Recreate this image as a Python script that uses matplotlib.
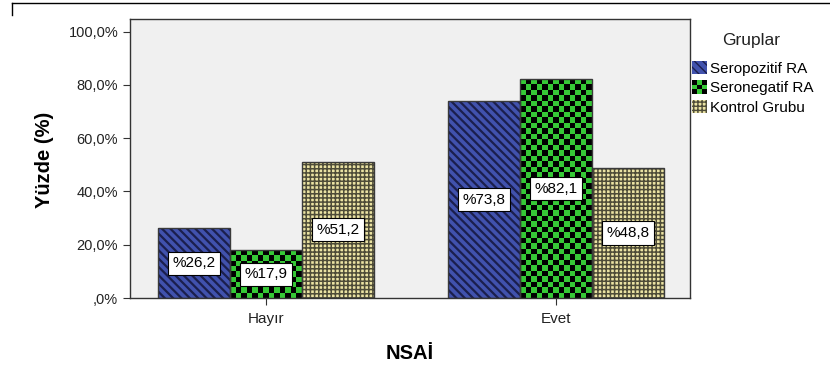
import numpy as np
import matplotlib.pyplot as plt
from matplotlib.patches import Rectangle
from matplotlib.lines import Line2D
from matplotlib.colors import ListedColormap
from matplotlib.legend_handler import HandlerBase
from matplotlib.ticker import FuncFormatter

plt.rcParams['font.family'] = ['Liberation Sans', 'DejaVu Sans']

# veriler (%)
nsai = ['Hayır', 'Evet']
gruplar = ['Seropozitif RA', 'Seronegatif RA', 'Kontrol Grubu']
seropozitif = [26.2, 73.8]
seronegatif = [17.9, 82.1]
kontrol = [51.2, 48.8]
yticks = [0, 20, 40, 60, 80, 100]

renk = ['#4152ad', '#36c936', '#ebe3a3']
desen_renk = ['#1b1f4d', '#000000', '#4e4c38']
desen = ['\\\\\\\\', None, '++++']
desen_kalinlik = [1.6, 1.0, 1.1]


def dama(ax, bar, renk1, renk2, hucre=5.5):
  # damali dolgu, cubugun icine kirpilir
  x0, y0 = bar.get_x(), bar.get_y()
  w, h = bar.get_width(), bar.get_height()
  p0 = ax.transData.transform((x0, y0))
  p1 = ax.transData.transform((x0 + w, y0 + h))
  nx = max(1, int(round((p1[0] - p0[0]) / hucre)))
  ny = max(1, int(round((p1[1] - p0[1]) / hucre)))
  tahta = np.indices((ny, nx)).sum(axis=0) % 2
  ax.imshow(tahta, cmap=ListedColormap([renk2, renk1]), extent=(x0, x0 + w, y0, y0 + h),
            origin='lower', interpolation='nearest', aspect='auto', zorder=3, clip_path=bar)


class HandlerDama(HandlerBase):
  def create_artists(self, legend, orig_handle, xdescent, ydescent, width, height, fontsize, trans):
    parcalar = []
    n = 3
    for i in range(n):
      for j in range(n):
        c = renk[1] if (i + j) % 2 else 'black'
        parcalar.append(Rectangle((-xdescent + i * width / n, -ydescent + j * height / n),
                                  width / n, height / n, facecolor=c, edgecolor='none', transform=trans))
    return parcalar


fig = plt.figure(figsize=(8.3, 3.85), dpi=100)
ax = fig.add_axes([130 / 830, 87 / 385, 560 / 830, 279 / 385])
ax.set_facecolor('#f0f0f0')

gen = 0.248
x = np.arange(len(nsai))
ax.set_xlim(-0.469, 1.462)
ax.set_ylim(0, 104.7)

seriler = [seropozitif, seronegatif, kontrol]
for i, degerler in enumerate(seriler):
  pos = x + (i - 1) * gen
  with plt.rc_context({'hatch.linewidth': desen_kalinlik[i]}):
    bars = ax.bar(pos, degerler, gen, color=renk[i], edgecolor=desen_renk[i],
                  hatch=desen[i], linewidth=0, zorder=2)
  if desen[i] is None:
    for b in bars:
      dama(ax, b, renk[1], 'black')
  ax.bar(pos, degerler, gen, fill=False, edgecolor='#3a3a3a', linewidth=1, zorder=4)
  for b, v in zip(bars, degerler):
    ax.text(b.get_x() + b.get_width() / 2, v / 2, ('%' + f'{v:.1f}').replace('.', ','),
            ha='center', va='center', fontsize=11, zorder=5,
            bbox=dict(boxstyle='square,pad=0.3', facecolor='white', edgecolor='black', linewidth=0.8))

ax.set_xlim(-0.469, 1.462)
ax.set_ylim(0, 104.7)

ax.set_xticks(x, nsai)
ax.set_yticks(yticks)
ax.yaxis.set_major_formatter(FuncFormatter(lambda v, p: (f'{v:.1f}%').replace('.', ',').lstrip('0') if v == 0 else (f'{v:.1f}%').replace('.', ',')))
ax.tick_params(direction='out', length=5, color='#333333', labelsize=10.5, labelcolor='#222222')
ax.tick_params(axis='x', labelsize=11, pad=5)
for s in ax.spines.values():
  s.set_color('#333333')
  s.set_linewidth(1)

ax.set_ylabel('Yüzde (%)', fontsize=14.5, fontweight='bold')
ax.yaxis.set_label_coords(-0.135, 0.495)
ax.set_xlabel('NSAİ', fontsize=14.5, fontweight='bold')
ax.xaxis.set_label_coords(0.5, -0.165)

with plt.rc_context({'hatch.linewidth': 1.6}):
  h0 = Rectangle((0, 0), 1, 1, facecolor=renk[0], edgecolor=desen_renk[0], hatch=desen[0], linewidth=0)
with plt.rc_context({'hatch.linewidth': 1.1}):
  h2 = Rectangle((0, 0), 1, 1, facecolor=renk[2], edgecolor=desen_renk[2], hatch=desen[2], linewidth=0)
h1 = Rectangle((0, 0), 1, 1, facecolor=renk[1])
tutucular = [h0, h1, h2]

fig.text(751 / 830, 1 - 41 / 385, 'Gruplar', ha='center', va='center', fontsize=12.5, color='#222222')
fig.legend(tutucular, gruplar, loc='upper left', bbox_to_anchor=(692 / 830, 1 - 61 / 385),
           frameon=False, fontsize=11, handlelength=0.95, handleheight=0.95,
           handletextpad=0.25, labelspacing=0.3, borderpad=0, borderaxespad=0,
           handler_map={h1: HandlerDama()})

# dis cerceve
fig.add_artist(Line2D([12 / 830, 1], [1 - 3 / 385, 1 - 3 / 385], transform=fig.transFigure, color='black', lw=1))
fig.add_artist(Line2D([12 / 830, 12 / 830], [1 - 3 / 385, 1 - 15 / 385], transform=fig.transFigure, color='black', lw=1))

fig.savefig('out.png', dpi=100)
